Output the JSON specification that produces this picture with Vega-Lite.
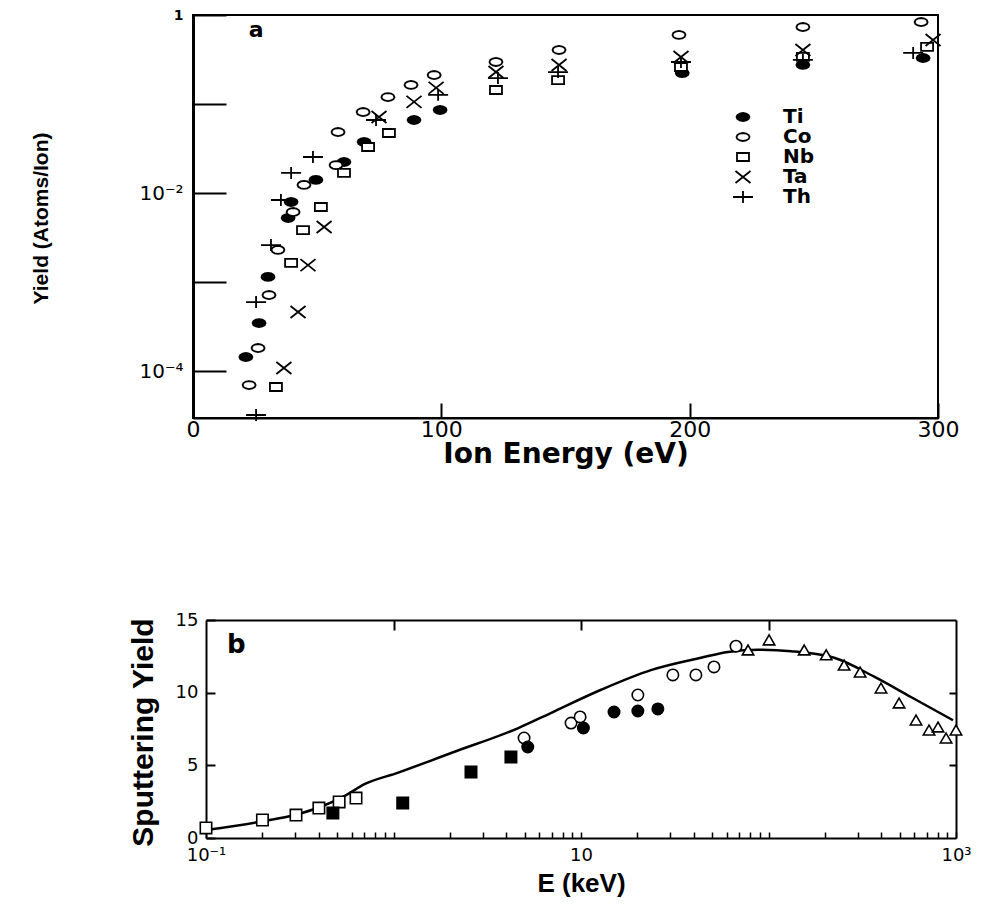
{
  "$schema": "https://vega.github.io/schema/vega-lite/v6.json",
  "background": "white",
  "padding": {"left": 28, "top": 7, "right": 5, "bottom": 5},
  "spacing": 202,
  "bounds": "flush",
  "resolve": {"scale": {"shape": "independent", "fill": "independent", "stroke": "independent"}, "legend": {"shape": "independent", "fill": "independent", "stroke": "independent"}},
  "config": {
    "view": {"stroke": null},
    "axis": {
      "grid": false,
      "domainColor": "black",
      "tickColor": "black",
      "labelColor": "black",
      "titleColor": "black",
      "labelFont": "DejaVu Sans",
      "titleFont": "Liberation Sans",
      "titleFontWeight": "bold",
      "labelOverlap": false,
      "labelFlush": false
    }
  },
  "datasets": {
    "top": [
      {"E": 21.3, "Y": 0.000145, "el": "Ti"},
      {"E": 26.6, "Y": 0.000349, "el": "Ti"},
      {"E": 30.2, "Y": 0.00115, "el": "Ti"},
      {"E": 38.3, "Y": 0.00527, "el": "Ti"},
      {"E": 39.5, "Y": 0.00797, "el": "Ti"},
      {"E": 49.5, "Y": 0.0141, "el": "Ti"},
      {"E": 60.8, "Y": 0.0224, "el": "Ti"},
      {"E": 68.9, "Y": 0.0376, "el": "Ti"},
      {"E": 89.0, "Y": 0.0663, "el": "Ti"},
      {"E": 99.5, "Y": 0.0859, "el": "Ti"},
      {"E": 197, "Y": 0.223, "el": "Ti"},
      {"E": 245.6, "Y": 0.275, "el": "Ti"},
      {"E": 294, "Y": 0.329, "el": "Ti"},
      {"E": 22.6, "Y": 0.0000703, "el": "Co"},
      {"E": 26.2, "Y": 0.000183, "el": "Co"},
      {"E": 30.6, "Y": 0.00072, "el": "Co"},
      {"E": 34.2, "Y": 0.00231, "el": "Co"},
      {"E": 40.3, "Y": 0.00615, "el": "Co"},
      {"E": 44.7, "Y": 0.0124, "el": "Co"},
      {"E": 57.6, "Y": 0.0207, "el": "Co"},
      {"E": 58.4, "Y": 0.0486, "el": "Co"},
      {"E": 68.5, "Y": 0.0815, "el": "Co"},
      {"E": 78.5, "Y": 0.12, "el": "Co"},
      {"E": 87.8, "Y": 0.164, "el": "Co"},
      {"E": 97.1, "Y": 0.212, "el": "Co"},
      {"E": 122, "Y": 0.297, "el": "Co"},
      {"E": 147.4, "Y": 0.405, "el": "Co"},
      {"E": 195.7, "Y": 0.597, "el": "Co"},
      {"E": 245.6, "Y": 0.733, "el": "Co"},
      {"E": 293.2, "Y": 0.834, "el": "Co"},
      {"E": 33.4, "Y": 0.0000668, "el": "Nb"},
      {"E": 39.5, "Y": 0.00165, "el": "Nb"},
      {"E": 44.3, "Y": 0.00386, "el": "Nb"},
      {"E": 51.5, "Y": 0.007, "el": "Nb"},
      {"E": 60.8, "Y": 0.0169, "el": "Nb"},
      {"E": 70.5, "Y": 0.033, "el": "Nb"},
      {"E": 78.9, "Y": 0.0474, "el": "Nb"},
      {"E": 122, "Y": 0.144, "el": "Nb"},
      {"E": 147, "Y": 0.186, "el": "Nb"},
      {"E": 196.5, "Y": 0.261, "el": "Nb"},
      {"E": 245.6, "Y": 0.338, "el": "Nb"},
      {"E": 295.6, "Y": 0.438, "el": "Nb"},
      {"E": 36.6, "Y": 0.000109, "el": "Ta"},
      {"E": 42.3, "Y": 0.000464, "el": "Ta"},
      {"E": 46.3, "Y": 0.00156, "el": "Ta"},
      {"E": 52.8, "Y": 0.00418, "el": "Ta"},
      {"E": 74.9, "Y": 0.0716, "el": "Ta"},
      {"E": 89.0, "Y": 0.106, "el": "Ta"},
      {"E": 97.9, "Y": 0.152, "el": "Ta"},
      {"E": 122, "Y": 0.229, "el": "Ta"},
      {"E": 147.4, "Y": 0.275, "el": "Ta"},
      {"E": 196.5, "Y": 0.338, "el": "Ta"},
      {"E": 245.6, "Y": 0.405, "el": "Ta"},
      {"E": 298, "Y": 0.524, "el": "Ta"},
      {"E": 25.4, "Y": 0.0000324, "el": "Th"},
      {"E": 25.4, "Y": 0.0006, "el": "Th"},
      {"E": 31.4, "Y": 0.00262, "el": "Th"},
      {"E": 35.4, "Y": 0.00839, "el": "Th"},
      {"E": 39.5, "Y": 0.0169, "el": "Th"},
      {"E": 48.3, "Y": 0.0255, "el": "Th"},
      {"E": 73.7, "Y": 0.0663, "el": "Th"},
      {"E": 98.7, "Y": 0.127, "el": "Th"},
      {"E": 122.8, "Y": 0.196, "el": "Th"},
      {"E": 147, "Y": 0.229, "el": "Th"},
      {"E": 196.5, "Y": 0.297, "el": "Th"},
      {"E": 245.6, "Y": 0.313, "el": "Th"},
      {"E": 290, "Y": 0.375, "el": "Th"}
    ],
    "curve": [
      {"E": 0.1, "Y": 0.55},
      {"E": 0.2, "Y": 1.15},
      {"E": 0.3, "Y": 1.6},
      {"E": 0.4, "Y": 2.1},
      {"E": 0.55, "Y": 2.9},
      {"E": 0.7, "Y": 3.7},
      {"E": 1.06, "Y": 4.5},
      {"E": 2.03, "Y": 5.85},
      {"E": 4.6, "Y": 7.55},
      {"E": 6.9, "Y": 8.6},
      {"E": 12.8, "Y": 10.2},
      {"E": 23.6, "Y": 11.55},
      {"E": 43.6, "Y": 12.4},
      {"E": 60.8, "Y": 12.8},
      {"E": 88, "Y": 12.95},
      {"E": 132, "Y": 12.85},
      {"E": 224, "Y": 12.4},
      {"E": 366, "Y": 11.1},
      {"E": 575, "Y": 9.7},
      {"E": 964, "Y": 8.1}
    ],
    "pts": [
      {"E": 0.1, "Y": 0.69, "t": "osq"},
      {"E": 0.2, "Y": 1.24, "t": "osq"},
      {"E": 0.302, "Y": 1.58, "t": "osq"},
      {"E": 0.4, "Y": 2.06, "t": "osq"},
      {"E": 0.513, "Y": 2.48, "t": "osq"},
      {"E": 0.631, "Y": 2.75, "t": "osq"},
      {"E": 0.475, "Y": 1.72, "t": "fsq"},
      {"E": 1.12, "Y": 2.41, "t": "fsq"},
      {"E": 2.59, "Y": 4.54, "t": "fsq"},
      {"E": 4.23, "Y": 5.57, "t": "fsq"},
      {"E": 4.97, "Y": 6.88, "t": "oci"},
      {"E": 8.85, "Y": 7.91, "t": "oci"},
      {"E": 9.89, "Y": 8.33, "t": "oci"},
      {"E": 20.1, "Y": 9.84, "t": "oci"},
      {"E": 30.9, "Y": 11.22, "t": "oci"},
      {"E": 41.0, "Y": 11.22, "t": "oci"},
      {"E": 51.2, "Y": 11.77, "t": "oci"},
      {"E": 67.1, "Y": 13.2, "t": "oci"},
      {"E": 5.2, "Y": 6.26, "t": "fci"},
      {"E": 10.3, "Y": 7.57, "t": "fci"},
      {"E": 15.0, "Y": 8.67, "t": "fci"},
      {"E": 20.1, "Y": 8.74, "t": "fci"},
      {"E": 25.7, "Y": 8.88, "t": "fci"},
      {"E": 77.8, "Y": 12.94, "t": "otr"},
      {"E": 100.7, "Y": 13.63, "t": "otr"},
      {"E": 155, "Y": 12.94, "t": "otr"},
      {"E": 203, "Y": 12.6, "t": "otr"},
      {"E": 253, "Y": 11.9, "t": "otr"},
      {"E": 308, "Y": 11.42, "t": "otr"},
      {"E": 398, "Y": 10.32, "t": "otr"},
      {"E": 497, "Y": 9.29, "t": "otr"},
      {"E": 612, "Y": 8.12, "t": "otr"},
      {"E": 718, "Y": 7.43, "t": "otr"},
      {"E": 802, "Y": 7.64, "t": "otr"},
      {"E": 885, "Y": 6.88, "t": "otr"},
      {"E": 1000, "Y": 7.43, "t": "otr"}
    ]
  },
  "vconcat": [
    {
      "width": 745,
      "height": 403,
      "view": {"stroke": "black", "strokeWidth": 2},
      "layer": [
        {
          "data": {"name": "top"},
          "mark": {"type": "point", "filled": true, "strokeWidth": 1.8, "size": 100, "opacity": 1},
          "encoding": {
            "x": {
              "field": "E", "type": "quantitative",
              "scale": {"domain": [0, 300], "nice": false, "zero": false},
              "axis": {
                "title": "Ion Energy (eV)",
                "values": [0, 100, 200, 300],
                "tickSize": -15, "tickWidth": 2, "labelPadding": 16,
                "labelFontSize": 22, "domainWidth": 2,
                "titleFont": "DejaVu Sans", "titleFontSize": 28, "titlePadding": 0
              }
            },
            "y": {
              "field": "Y", "type": "quantitative",
              "scale": {"type": "log", "domain": [0.00003, 1], "nice": false},
              "axis": {
                "title": "Yield (Atoms/Ion)",
                "values": [1, 0.1, 0.01, 0.001, 0.0001],
                "labelExpr": "datum.value > 0.5 ? '1' : (abs(datum.value - 0.01) < 1e-9 ? '10⁻²' : (abs(datum.value - 0.0001) < 1e-11 ? '10⁻⁴' : ''))",
                "tickSize": -33, "tickWidth": 2, "labelPadding": 43,
                "labelFontSize": {"condition": {"test": "datum.value > 0.5", "value": 14}, "value": 20},
                "labelFontWeight": {"condition": {"test": "datum.value > 0.5", "value": "bold"}, "value": "normal"},
                "domainWidth": 3,
                "titleFontSize": 21, "titleX": -152, "titleY": 203,
                "titleAlign": "center", "titleBaseline": "middle"
              }
            },
            "shape": {
              "field": "el", "type": "nominal",
              "scale": {
                "domain": ["Ti", "Co", "Nb", "Ta", "Th"],
                "range": [
                  "M1.3,0L1.126,0.4L0.65,0.693L0,0.8L-0.65,0.693L-1.126,0.4L-1.3,0L-1.126,-0.4L-0.65,-0.693L0,-0.8L0.65,-0.693L1.126,-0.4Z",
                  "M1.3,0L1.126,0.4L0.65,0.693L0,0.8L-0.65,0.693L-1.126,0.4L-1.3,0L-1.126,-0.4L-0.65,-0.693L0,-0.8L0.65,-0.693L1.126,-0.4Z",
                  "M-1.2,-0.8L1.2,-0.8L1.2,0.8L-1.2,0.8Z",
                  "M-1.5,-1.2L1.5,1.2M1.5,-1.2L-1.5,1.2",
                  "M-2,0L2,0M0,-1.2L0,1.2"
                ]
              },
              "legend": {
                "orient": "none", "legendX": 540, "legendY": 92, "title": null,
                "labelFont": "DejaVu Sans", "labelFontWeight": "bold", "labelFontSize": 20,
                "labelColor": "black", "symbolStrokeWidth": 1.8,
                "symbolSize": 100, "rowPadding": -2, "labelOffset": 30, "padding": 0
              }
            },
            "fill": {
              "field": "el", "type": "nominal",
              "scale": {"domain": ["Ti", "Co", "Nb", "Ta", "Th"], "range": ["black", "white", "white", "white", "white"]},
              "legend": {
                "orient": "none", "legendX": 540, "legendY": 92, "title": null,
                "labelFont": "DejaVu Sans", "labelFontWeight": "bold", "labelFontSize": 20,
                "labelColor": "black", "symbolStrokeWidth": 1.8,
                "symbolSize": 100, "rowPadding": -2, "labelOffset": 30, "padding": 0
              }
            },
            "stroke": {
              "field": "el", "type": "nominal",
              "scale": {"domain": ["Ti", "Co", "Nb", "Ta", "Th"], "range": ["black", "black", "black", "black", "black"]},
              "legend": {
                "orient": "none", "legendX": 540, "legendY": 92, "title": null,
                "labelFont": "DejaVu Sans", "labelFontWeight": "bold", "labelFontSize": 20,
                "labelColor": "black", "symbolStrokeWidth": 1.8,
                "symbolSize": 100, "rowPadding": -2, "labelOffset": 30, "padding": 0
              }
            }
          }
        },
        {
          "data": {"values": [{}]},
          "mark": {"type": "text", "text": "a", "font": "DejaVu Sans", "fontWeight": "bold", "fontSize": 22, "color": "black"},
          "encoding": {
            "x": {"datum": 25.4, "type": "quantitative"},
            "y": {"datum": 0.68, "type": "quantitative"}
          }
        }
      ]
    },
    {
      "width": 763,
      "height": 218,
      "layer": [
        {
          "data": {"name": "curve"},
          "mark": {"type": "line", "color": "black", "strokeWidth": 2.5, "interpolate": "monotone"},
          "encoding": {
            "x": {
              "field": "E", "type": "quantitative",
              "scale": {"type": "log", "domain": [0.1, 1000], "range": [13, 763], "nice": false},
              "axis": {
                "title": "E (keV)",
                "values": [0.1, 0.2, 0.3, 0.4, 0.5, 0.6, 0.7, 0.8, 0.9, 1, 2, 3, 4, 5, 6, 7, 8, 9, 10, 20, 30, 40, 50, 60, 70, 80, 90, 100, 200, 300, 400, 500, 600, 700, 800, 900, 1000],
                "labelExpr": "abs(datum.value - 0.1) < 1e-9 ? '10⁻¹' : (abs(datum.value - 10) < 1e-9 ? '10' : (abs(datum.value - 1000) < 1e-6 ? '10³' : ''))",
                "tickSize": -6, "tickWidth": 1.5, "labelPadding": 14,
                "labelFontSize": 18, "domainWidth": 2,
                "titleFontSize": 26, "titlePadding": 6
              }
            },
            "y": {
              "field": "Y", "type": "quantitative",
              "scale": {"domain": [0, 15], "nice": false, "zero": false},
              "axis": {
                "title": "Sputtering Yield",
                "values": [0, 5, 10, 15],
                "tickSize": -9, "tickWidth": 2, "labelPadding": 17,
                "labelFontSize": 18, "domainWidth": 2, "offset": -13,
                "titleFontSize": 30, "titleX": -63, "titleY": 112,
                "titleAlign": "center", "titleBaseline": "middle"
              }
            }
          }
        },
        {
          "data": {"name": "curve"},
          "mark": {"type": "point", "opacity": 0},
          "encoding": {
            "x": {
              "field": "E", "type": "quantitative",
              "scale": {"type": "log", "domain": [0.1, 1000], "range": [13, 763], "nice": false},
              "axis": {"orient": "top", "title": null, "values": [1, 10, 100], "labels": false, "tickSize": -10, "tickWidth": 2, "domainWidth": 2}
            },
            "y": {
              "field": "Y", "type": "quantitative",
              "scale": {"domain": [0, 15], "nice": false, "zero": false},
              "axis": {"orient": "right", "title": null, "values": [5, 10], "labels": false, "tickSize": -7, "tickWidth": 2, "domainWidth": 2}
            }
          }
        },
        {
          "data": {"name": "pts"},
          "mark": {"type": "point", "filled": true, "stroke": "black", "strokeWidth": 1.6, "size": 130, "opacity": 1},
          "encoding": {
            "x": {"field": "E", "type": "quantitative", "scale": {"type": "log", "domain": [0.1, 1000], "range": [13, 763], "nice": false}, "axis": null},
            "y": {"field": "Y", "type": "quantitative", "scale": {"domain": [0, 15], "nice": false, "zero": false}, "axis": null},
            "shape": {
              "field": "t", "type": "nominal",
              "scale": {"domain": ["osq", "fsq", "oci", "fci", "otr"], "range": ["square", "square", "circle", "circle", "triangle-up"]},
              "legend": null
            },
            "fill": {
              "field": "t", "type": "nominal",
              "scale": {"domain": ["osq", "fsq", "oci", "fci", "otr"], "range": ["white", "black", "white", "black", "white"]},
              "legend": null
            }
          }
        },
        {
          "data": {"values": [{}]},
          "mark": {"type": "text", "text": "b", "font": "DejaVu Sans", "fontWeight": "bold", "fontSize": 26, "color": "black"},
          "encoding": {
            "x": {"datum": 0.145, "type": "quantitative", "axis": null},
            "y": {"datum": 13.3, "type": "quantitative", "axis": null}
          }
        }
      ],
      "resolve": {"axis": {"x": "independent", "y": "independent"}}
    }
  ]
}
